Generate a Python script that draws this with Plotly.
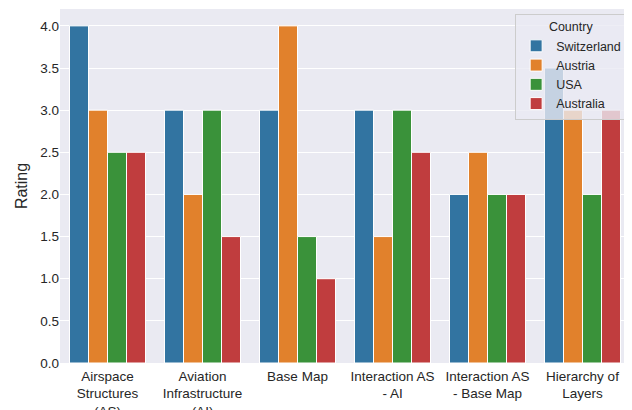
import plotly.graph_objects as go

categories = ["Airspace<br>Structures<br>(AS)", "Aviation<br>Infrastructure<br>(AI)", "Base Map",
              "Interaction AS<br>- AI", "Interaction AS<br>- Base Map", "Hierarchy of<br>Layers"]
countries = ["Switzerland", "Austria", "USA", "Australia"]
switzerland = [4.0, 3.0, 3.0, 3.0, 2.0, 3.5]
austria = [3.0, 2.0, 4.0, 1.5, 2.5, 3.0]
usa = [2.5, 3.0, 1.5, 3.0, 2.0, 2.0]
australia = [2.5, 1.5, 1.0, 2.5, 2.0, 3.0]
series = [switzerland, austria, usa, australia]
colors = ["#3274a1", "#e1812c", "#3a923a", "#c03d3e"]

fig = go.Figure()
for name, vals, c in zip(countries, series, colors):
    fig.add_trace(go.Bar(x=categories, y=vals, name=name, marker_color=c,
                         marker_line_color="white", marker_line_width=1))

fig.update_layout(
    width=624, height=402,
    margin=dict(l=52, r=2, t=1, b=47, autoexpand=False),
    paper_bgcolor="white", plot_bgcolor="#eaeaf2",
    font=dict(family="Liberation Sans, Arial, sans-serif", size=13, color="#262626"),
    barmode="group", bargap=0.2, bargroupgap=0,
    legend=dict(title=dict(text="Country", side="top center", font=dict(size=12.5)),
                x=0.995, xanchor="right", y=0.986, yanchor="top",
                itemwidth=30, tracegroupgap=0,
                bgcolor="rgba(234,234,242,0.8)", bordercolor="#cccccc", borderwidth=1,
                font=dict(size=12.5)),
)
fig.update_xaxes(showgrid=False, ticks="", tickfont=dict(size=13.5), automargin=False,
                 ticklabelstandoff=3)
fig.update_yaxes(range=[0, 4.2], dtick=0.5, tickformat=".1f", gridcolor="white", gridwidth=1,
                 zeroline=False, title=dict(text="Rating", standoff=8), ticks="",
                 tickfont=dict(size=13.5), automargin=False)

fig.write_html("out.html")
